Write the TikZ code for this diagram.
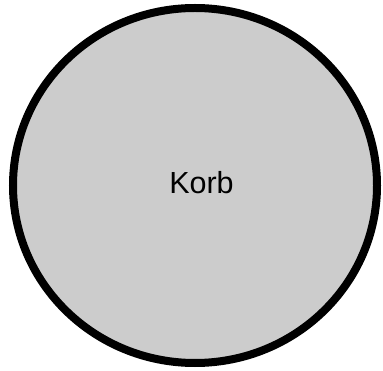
\documentclass[tikz,border=0pt]{standalone}
\usepackage{fontspec}
\setmainfont{Liberation Sans}
\usepackage{tikz}
\usetikzlibrary{shapes.geometric}

\definecolor{korbgray}{HTML}{CCCCCC}

\begin{document}
\begin{tikzpicture}[
    x=1pt, y=-1pt,
    every node/.style={font=\fontsize{30.5}{36}\selectfont, align=center},
    korbbox/.style={draw=black, line width=8pt, fill=korbgray, ellipse,
                    inner sep=0pt, minimum width=364pt, minimum height=355pt}
]
\useasboundingbox (0,0) rectangle (383,371);
\node[korbbox] (korb) at (195,185.5) {};
\node (label) at (201.5,183) {Korb};
\end{tikzpicture}
\end{document}
